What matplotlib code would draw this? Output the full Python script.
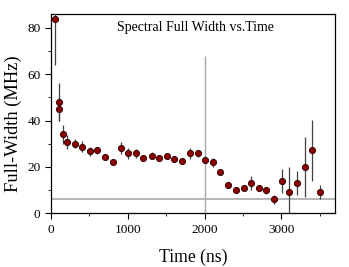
import matplotlib
matplotlib.use("Agg")
import matplotlib.pyplot as plt
from matplotlib.ticker import MultipleLocator

plt.rcParams['font.family'] = ['Liberation Serif', 'DejaVu Serif']

# Data
time_ns = [55, 100, 100, 160, 210, 310, 410, 510, 605, 710, 810, 910,
           1005, 1105, 1205, 1310, 1410, 1510, 1605, 1705, 1810, 1910,
           2005, 2105, 2205, 2305, 2410, 2510, 2605, 2705, 2805, 2910,
           3005, 3105, 3205, 3305, 3405, 3505]
width_mhz = [84, 48, 45, 34, 30.7, 30, 28.7, 26.8, 27.1, 24.5, 22.2, 28.1,
             25.8, 25.8, 23.8, 24.8, 23.8, 24.7, 23.6, 22.5, 25.8, 26,
             23.1, 22, 17.7, 12.1, 10.1, 11.1, 13.1, 11.1, 10, 6.1,
             14.1, 9.1, 13.1, 20, 27.1, 9.2]
width_err = [20, 8, 5, 4.3, 3, 2, 2.3, 2, 1.5, 1, 1, 2.5,
             2.3, 1.8, 1, 1.5, 1, 1, 1, 1, 2.5, 1.5,
             1.5, 2, 1, 1, 1, 1, 3, 1, 1.5, 2,
             5.2, 11, 5, 13, 13, 3]

ref_time = 2000
ref_top = 68
ref_width = 6.2

fig = plt.figure(figsize=(3.49, 2.67), dpi=100)
ax = fig.add_axes([0.146, 0.201, 0.814, 0.747])

ax.axhline(ref_width, color='#b0b0b0', lw=1.3, zorder=1)
ax.vlines(ref_time, 0, ref_top, color='#a8a8a8', lw=1.0, zorder=1)

ax.errorbar(time_ns, width_mhz, yerr=width_err, fmt='o', ms=4.5,
            mfc='#8b0000', mec='#2a0000', mew=0.6, ecolor='#404040',
            elinewidth=0.9, capsize=0, zorder=3)

ax.set_xlim(0, 3700)
ax.set_ylim(0, 86)
ax.xaxis.set_major_locator(MultipleLocator(1000))
ax.xaxis.set_minor_locator(MultipleLocator(500))
ax.yaxis.set_major_locator(MultipleLocator(20))
ax.yaxis.set_minor_locator(MultipleLocator(10))
ax.tick_params(which='major', direction='out', length=4, width=0.8, labelsize=9.5)
ax.tick_params(which='minor', direction='out', length=2.5, width=0.6)
for s in ax.spines.values():
    s.set_linewidth(0.9)

ax.set_xlabel('Time (ns)', fontsize=12.7, labelpad=9)
ax.set_ylabel('Full-Width (MHz)', fontsize=13.3)
ax.yaxis.set_label_coords(-0.102, 0.45)
ax.text(0.51, 0.93, 'Spectral Full Width vs.Time', transform=ax.transAxes,
        ha='center', va='center', fontsize=10)

fig.savefig('out.png', dpi=100)
